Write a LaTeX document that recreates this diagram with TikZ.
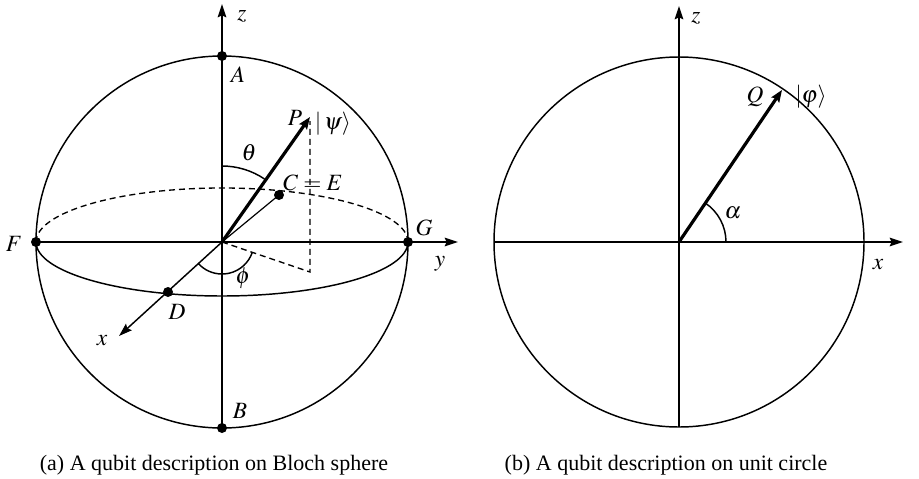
\documentclass[tikz,border=0pt]{standalone}
\usepackage{mathptmx}
\usepackage{fontspec}
\setmainfont{Liberation Serif}
\usetikzlibrary{arrows.meta,calc}
\begin{document}
\begin{tikzpicture}[x=0.75pt,y=-0.75pt,
  thinline/.style={line width=1.1pt},
  axis/.style={line width=1.1pt,-{Stealth[length=10pt,width=6.5pt,inset=1.5pt]}},
  vec/.style={line width=2.4pt,-{Stealth[length=9pt,width=7pt,inset=1.5pt]}},
  dashline/.style={line width=1pt,dash pattern=on 4.5pt off 3pt},
  dot/.style={circle,fill=black,inner sep=0pt,minimum size=7.5pt},
  lbl/.style={font=\fontsize{17.5}{20}\selectfont,inner sep=0pt},
  captext/.style={font=\fontsize{16.5}{20}\selectfont,inner sep=0pt,anchor=base}]
\useasboundingbox (0,0) rectangle (919,478);

% ---------- (a) Bloch sphere ----------
\coordinate (O) at (222,242);
\coordinate (Zt) at (222,4);
\coordinate (Yt) at (458,242);
\coordinate (Xt) at (119,336);
\coordinate (Pt) at (310,117);
\coordinate (Pr) at (310,272);
\coordinate (PrT) at (310,121);

\draw[thinline] (O) circle[radius=186];
% equator
\draw[dashline] (36,242) arc[start angle=180,end angle=360,x radius=186,y radius=54];
\draw[thinline] (36,242) arc[start angle=180,end angle=0,x radius=186,y radius=54];

\node[dot] (A) at (222,56) {};
\node[dot] (B) at (222,428) {};
\node[dot] (F) at (36,242) {};
\node[dot] (G) at (408,242) {};
\node[dot] (D) at (168,292) {};
\node[dot] (C) at (279,195) {};

\draw[axis] (B.center) -- (Zt);
\draw[axis] (F.center) -- (Yt);
\draw[axis] (O) -- (Xt);
\draw[line width=0.9pt] (O) -- (C.center);
\draw[dashline] (O) -- (Pr) -- (PrT);
\draw[vec] (O) -- (Pt);
% angles
\draw[thinline] (222,166) arc[start angle=-90,end angle=-56,radius=76];
\draw[thinline] ($(O)+(137:32)$) arc[start angle=137,end angle=19,radius=32];

\node[lbl] (lz) at (242,16) {$z$};
\node[lbl] (lA) at (238,75) {$A$};
\node[lbl] (lB) at (240,411) {$B$};
\node[lbl] (lF) at (14,244) {$F$};
\node[lbl] (lG) at (424,228) {$G$};
\node[lbl] (ly) at (440,264) {$y$};
\node[lbl] (lx) at (102,341) {$x$};
\node[lbl] (lD) at (177,312) {$D$};
\node[lbl] (lCE) at (313,183) {$C=E$};
\node[lbl] (lP) at (295,118) {$P$};
\node[lbl] (lpsi) at (333,124) {$|\,\psi\rangle$};
\node[lbl] (lth) at (249,153) {$\theta$};
\node[lbl] (lph) at (243,278) {$\phi$};

% ---------- (b) unit circle ----------
\coordinate (O2) at (679,242);
\coordinate (Z2) at (679,6);
\coordinate (X2l) at (494,242);
\coordinate (X2) at (903,242);
\coordinate (B2) at (679,427);
\coordinate (Qt) at (782,90);
\draw[thinline] (O2) circle[radius=185];
\draw[axis] (B2) -- (Z2);
\draw[axis] (X2l) -- (X2);
\draw[vec] (O2) -- (Qt);
\draw[thinline] (726,242) arc[start angle=0,end angle=-56.4,radius=47];

\node[lbl] (lz2) at (696,18) {$z$};
\node[lbl] (lx2) at (878,265) {$x$};
\node[lbl] (lQ) at (755,97) {$Q$};
\node[lbl] (lvphi) at (811,97) {$|\varphi\rangle$};
\node[lbl] (lal) at (733,213) {$\alpha$};

% captions
\node[captext] (capa) at (214,470) {(a) A qubit description on Bloch sphere};
\node[captext] (capb) at (666,470) {(b) A qubit description on unit circle};
\end{tikzpicture}
\end{document}
